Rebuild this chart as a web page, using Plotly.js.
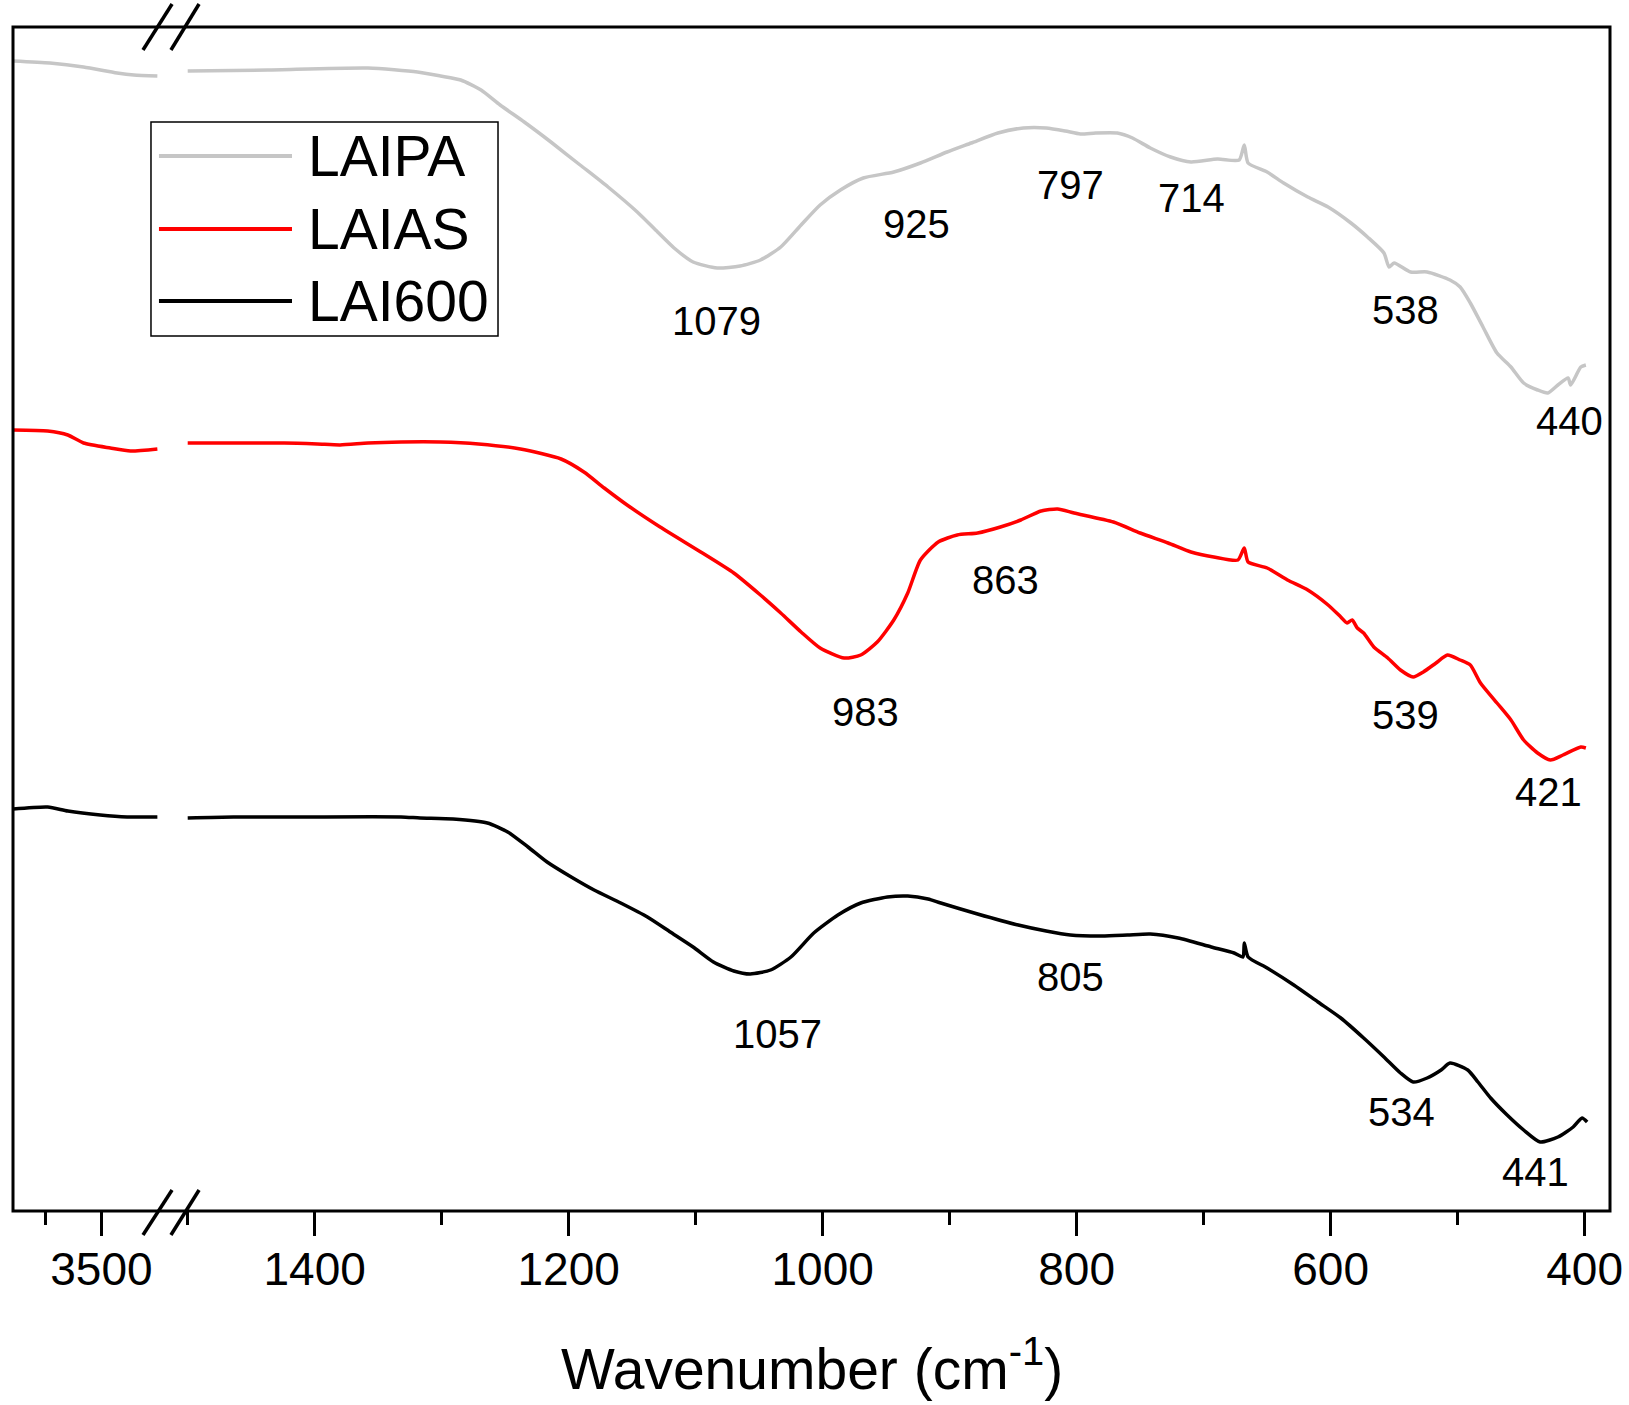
<!DOCTYPE html>
<html>
<head>
<meta charset="utf-8">
<script src="https://cdn.plot.ly/plotly-3.0.1.min.js"></script>
<style>
html,body{margin:0;padding:0;background:#fff;}
#chart{width:1629px;height:1405px;}
</style>
</head>
<body>
<div id="chart"></div>
<script>
// ---------- data ----------
const seriesNames = ['LAIPA', 'LAIAS', 'LAI600'];
const seriesColors = ['#c6c6c6', '#ff0000', '#000000'];

// high-wavenumber window (left of the axis break)
const laipaHighWn = [3579, 3546, 3516, 3486, 3471, 3450];
const laipaHighT  = [115.0, 114.8, 114.4, 113.8, 113.6, 113.5];
const laiasHighWn = [3579, 3548, 3530, 3516, 3492, 3474, 3450];
const laiasHighT  = [78.1, 78.0, 77.6, 76.8, 76.3, 76.0, 76.2];
const lai600HighWn = [3579, 3548, 3530, 3501, 3477, 3450];
const lai600HighT  = [40.2, 40.4, 40.0, 39.6, 39.4, 39.4];

// fingerprint window 1500-400 cm-1
const laipaLowWn = [1500,1437,1358,1319,1301,1285,1269,1254,1235,1214,1191,1169,1146,1130,1117,1102,1083,1065,1049,1033,1017,1002,986,968,944,923,902,883,862,842,824,809,797,785,768,756,742,726,710,689,672,668,665,650,637,618,602,584,571,558,554,550,537,524,506,498,490,480,469,458,448,437,429,421,413,411,403,399];
const laipaLowT  = [114.0,114.1,114.3,113.9,113.5,113.1,112.1,110.6,108.9,106.9,104.6,102.4,99.9,97.9,96.3,94.9,94.3,94.5,95.1,96.4,98.6,100.6,102.1,103.3,103.9,104.8,105.9,106.8,107.8,108.3,108.3,108.0,107.7,107.8,107.8,107.3,106.3,105.4,104.9,105.2,105.1,106.6,104.8,103.9,102.8,101.4,100.4,98.8,97.4,95.8,94.4,94.8,93.9,93.9,93.1,92.4,90.8,88.4,85.8,84.4,82.8,82.1,81.8,82.6,83.3,82.6,84.4,84.6];

const laiasLowWn = [1500,1464,1424,1398,1380,1358,1332,1301,1271,1238,1206,1188,1172,1154,1128,1096,1070,1049,1033,1017,1002,983,970,957,944,933,923,909,894,878,860,844,828,815,802,771,750,728,710,692,673,668,665,650,634,618,602,592,587,583,579,574,566,555,545,535,527,517,508,498,490,482,469,458,448,437,427,417,403,399];
const laiasLowT  = [76.8,76.8,76.8,76.7,76.6,76.8,76.9,76.9,76.7,76.2,75.2,73.9,72.3,70.6,68.4,65.9,63.8,61.6,59.8,57.9,56.3,55.3,55.6,56.9,59.1,61.8,65.1,66.9,67.6,67.8,68.4,69.1,70.0,70.2,69.8,68.9,67.8,66.8,65.9,65.4,65.1,66.3,64.9,64.3,63.1,62.1,60.6,59.4,58.8,59.1,58.3,57.8,56.4,55.3,54.1,53.4,53.9,54.8,55.6,55.1,54.6,52.8,50.8,49.1,47.1,45.8,45.1,45.6,46.4,46.3];

const lai600LowWn = [1500,1464,1411,1332,1317,1291,1264,1248,1232,1217,1198,1180,1159,1138,1120,1102,1086,1070,1057,1041,1025,1007,988,970,949,933,917,907,878,846,824,805,780,760,742,720,694,676,669,668,665,650,629,610,592,574,558,545,535,524,513,506,492,484,474,461,448,435,421,409,402,398];
const lai600LowT  = [39.3,39.4,39.4,39.4,39.3,39.2,38.8,37.9,36.4,34.9,33.4,32.1,30.8,29.4,27.9,26.4,24.9,24.0,23.7,24.1,25.4,27.8,29.6,30.8,31.4,31.5,31.2,30.8,29.7,28.6,28.0,27.6,27.5,27.6,27.7,27.3,26.4,25.8,25.4,26.8,25.4,24.3,22.6,20.9,19.3,17.3,15.4,13.8,12.9,13.3,14.1,14.8,14.1,12.9,11.3,9.6,8.1,6.9,7.4,8.4,9.3,8.9];

// band labels
const laipaBands  = ['1079', '925', '797', '714', '538', '440'];
const laiasBands  = ['983', '863', '539', '421'];
const lai600Bands = ['1057', '805', '534', '441'];

// axis ticks
const highMajorTicks = [3500];
const highMinorTicks = [3550];
const lowMajorTicks = [1400, 1200, 1000, 800, 600, 400];
const lowMinorTicks = [1500, 1300, 1100, 900, 700, 500];

// ---------- placement of the band labels (wavenumber, T) ----------
const bandLabelPos = [
  [[1083.5, 89.0], [926, 98.7], [804.7, 102.6], [709.4, 101.3], [541, 90.1], [411.8, 79.0]],
  [[966.1, 49.9], [855.9, 63.1], [541, 49.6], [428.3, 41.9]],
  [[1035.4, 17.7], [804.7, 23.4], [544.1, 9.9], [438.6, 3.9]]
];

const FONT = 'Liberation Sans, Arial, sans-serif';
const highWn = [laipaHighWn, laiasHighWn, lai600HighWn];
const highT = [laipaHighT, laiasHighT, lai600HighT];
const lowWn = [laipaLowWn, laiasLowWn, lai600LowWn];
const lowT = [laipaLowT, laiasLowT, lai600LowT];
const bands = [laipaBands, laiasBands, lai600Bands];

const traces = [];
for (let i = 0; i < seriesNames.length; i++) {
  traces.push({
    x: highWn[i], y: highT[i], xaxis: 'x', yaxis: 'y', type: 'scatter', mode: 'lines',
    name: seriesNames[i], showlegend: false,
    line: {color: seriesColors[i], width: 3.5, shape: 'spline', smoothing: 0.6}
  });
  traces.push({
    x: lowWn[i], y: lowT[i], xaxis: 'x2', yaxis: 'y', type: 'scatter', mode: 'lines',
    name: seriesNames[i], showlegend: false,
    line: {color: seriesColors[i], width: 3.5, shape: 'spline', smoothing: 0.6}
  });
}

const annotations = [];
for (let i = 0; i < bands.length; i++) {
  bands[i].forEach((txt, j) => {
    annotations.push({
      xref: 'x2', yref: 'y', x: bandLabelPos[i][j][0], y: bandLabelPos[i][j][1],
      text: txt, showarrow: false, xanchor: 'center', yanchor: 'middle',
      font: {family: FONT, size: 40, color: '#000'}
    });
  });
}
// axis title
annotations.push({
  xref: 'paper', yref: 'paper', x: 0.5, y: -0.1300, xanchor: 'center', yanchor: 'middle',
  text: 'Wavenumber (cm<sup>-1</sup>)', showarrow: false,
  font: {family: FONT, size: 57, color: '#000'}
});

// legend (drawn as box + sample lines + text)
const legendRowsY = [0.8910, 0.8294, 0.7686];
const shapes = [
  {type: 'rect', xref: 'paper', yref: 'paper', x0: 0, x1: 1, y0: 0, y1: 1,
   line: {color: '#000', width: 3}},
  {type: 'rect', xref: 'paper', yref: 'paper', x0: 0.0864, x1: 0.3037, y0: 0.7390, y1: 0.9198,
   line: {color: '#000', width: 1.5}, fillcolor: 'rgba(0,0,0,0)'},
  // axis break marks (top and bottom)
  {type: 'line', xref: 'paper', yref: 'paper', x0: 0.0814, y0: 0.9806, x1: 0.0996, y1: 1.0194, line: {color: '#000', width: 3.5}},
  {type: 'line', xref: 'paper', yref: 'paper', x0: 0.0989, y0: 0.9806, x1: 0.1165, y1: 1.0194, line: {color: '#000', width: 3.5}},
  {type: 'line', xref: 'paper', yref: 'paper', x0: 0.0814, y0: -0.0203, x1: 0.0996, y1: 0.0177, line: {color: '#000', width: 3.5}},
  {type: 'line', xref: 'paper', yref: 'paper', x0: 0.0989, y0: -0.0203, x1: 0.1165, y1: 0.0177, line: {color: '#000', width: 3.5}}
];
for (let i = 0; i < seriesNames.length; i++) {
  shapes.push({type: 'line', xref: 'paper', yref: 'paper', x0: 0.0914, x1: 0.1747,
    y0: legendRowsY[i], y1: legendRowsY[i], line: {color: seriesColors[i], width: 4}});
  annotations.push({xref: 'paper', yref: 'paper', x: 0.1835, y: legendRowsY[i],
    xanchor: 'left', yanchor: 'middle', text: seriesNames[i], showarrow: false,
    font: {family: FONT, size: 57, color: '#000'}});
}

const tickCommon = {
  ticks: 'outside', ticklen: 24, tickwidth: 3, tickcolor: '#000',
  showgrid: false, zeroline: false, showline: false,
  ticklabelstandoff: -6,
  tickfont: {family: FONT, size: 46, color: '#000'}, fixedrange: true
};

const layout = {
  width: 1629, height: 1405,
  margin: {l: 13, r: 19, t: 27, b: 194, pad: 0},
  paper_bgcolor: '#fff', plot_bgcolor: '#fff',
  showlegend: false,
  xaxis: Object.assign({}, tickCommon, {
    domain: [0, 0.0911], range: [3579, 3449], anchor: 'y',
    tickmode: 'array', tickvals: highMajorTicks, ticktext: highMajorTicks.map(String),
    minor: {tickmode: 'array', tickvals: highMinorTicks, ticks: 'outside', ticklen: 13, tickwidth: 3, tickcolor: '#000', showgrid: false}
  }),
  xaxis2: Object.assign({}, tickCommon, {
    domain: [0.1086, 1], range: [1501, 380], anchor: 'y',
    tickmode: 'array', tickvals: lowMajorTicks, ticktext: lowMajorTicks.map(String),
    minor: {tickmode: 'array', tickvals: lowMinorTicks, ticks: 'outside', ticklen: 13, tickwidth: 3, tickcolor: '#000', showgrid: false}
  }),
  yaxis: {range: [0, 118.4], visible: false, showgrid: false, zeroline: false, fixedrange: true},
  shapes: shapes,
  annotations: annotations
};

Plotly.newPlot('chart', traces, layout, {staticPlot: true, displayModeBar: false});
</script>
</body>
</html>
